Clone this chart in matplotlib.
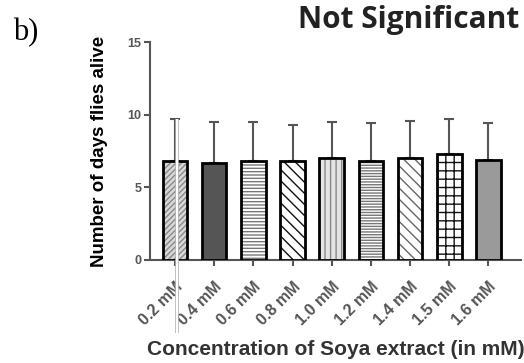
import matplotlib
matplotlib.use("Agg")
import matplotlib.pyplot as plt
import numpy as np

# concentrations and survival (days)
labels = ["0.2 mM", "0.4 mM", "0.6 mM", "0.8 mM", "1.0 mM",
          "1.2 mM", "1.4 mM", "1.5 mM", "1.6 mM"]
means = [6.8, 6.7, 6.8, 6.8, 7.0, 6.8, 7.0, 7.3, 6.9]
errs = [2.9, 2.8, 2.7, 2.5, 2.5, 2.6, 2.6, 2.4, 2.5]

fills = ["#d8d8d8", "#555555", "#ffffff", "#ffffff", "#e4e4e4",
         "#ffffff", "#ffffff", "#ffffff", "#9a9a9a"]
hatches = ["//////", "", "-----", "\\\\\\", "|||",
           "------", "\\\\\\", "++", ""]
hatch_cols = ["#888888", "#555555", "#777777", "#111111", "#888888",
              "#777777", "#666666", "#111111", "#9a9a9a"]

plt.rcParams["font.family"] = ["Liberation Sans", "DejaVu Sans"]
plt.rcParams["hatch.linewidth"] = 1.0

fig = plt.figure(figsize=(5.24, 3.63), dpi=100)
ax = fig.add_axes([0.286, 0.284, 0.709, 0.60])

x = np.arange(len(labels))
for i in range(len(labels)):
    ax.bar(x[i], means[i], width=0.63, color=fills[i], edgecolor=hatch_cols[i],
           linewidth=0, hatch=hatches[i], zorder=3)
    ax.bar(x[i], means[i], width=0.63, color="none", edgecolor="black",
           linewidth=2, zorder=4)
ax.errorbar(x, means, yerr=[np.zeros(len(errs)), errs], fmt="none",
            ecolor="#555555", elinewidth=1.5, capsize=3.5, capthick=1.5, zorder=2)

# the white streak that runs down through the first bar in the scan
top0 = means[0] + errs[0]
ax.plot([x[0] + 0.04] * 2, [top0, -5.0], color="#b0b0b0", lw=2.6,
        clip_on=False, zorder=6, solid_capstyle="butt")
ax.plot([x[0] + 0.04] * 2, [top0, -5.0], color="white", lw=1.5,
        clip_on=False, zorder=7, solid_capstyle="butt")

ax.set_xlim(-0.64, 8.84)
ax.set_ylim(0, 15)
ax.set_yticks([0, 5, 10, 15])
ax.set_xticks(x)
ax.set_xticklabels(labels, rotation=45, ha="right", rotation_mode="anchor",
                   fontsize=11.5, fontweight="bold", color="#555566")
for t in ax.get_yticklabels():
    t.set_fontsize(9)
    t.set_fontweight("bold")
    t.set_color("#555577")

for s in ["top", "right"]:
    ax.spines[s].set_visible(False)
for s in ["left", "bottom"]:
    ax.spines[s].set_color("#555555")
    ax.spines[s].set_linewidth(1.5)
ax.tick_params(axis="both", colors="#555555", width=1.5, length=4)
ax.tick_params(axis="x", pad=10)
ax.tick_params(axis="y", pad=2)

ax.set_ylabel("Number of days flies alive", fontsize=13.5, fontweight="bold",
              labelpad=14)
ax.set_xlabel("Concentration of Soya extract (in mM)", fontsize=15,
              fontweight="bold", color="#333333", labelpad=8)

fig.text(0.99, 0.945, "Not Significant", fontsize=21.5, fontweight="bold",
         family=["Open Sans", "DejaVu Sans"], ha="right", va="center",
         color="#222222")
fig.text(0.025, 0.91, "b)", fontsize=22, family=["Liberation Serif"],
         ha="left", va="center")

fig.savefig("out.png", dpi=100)
